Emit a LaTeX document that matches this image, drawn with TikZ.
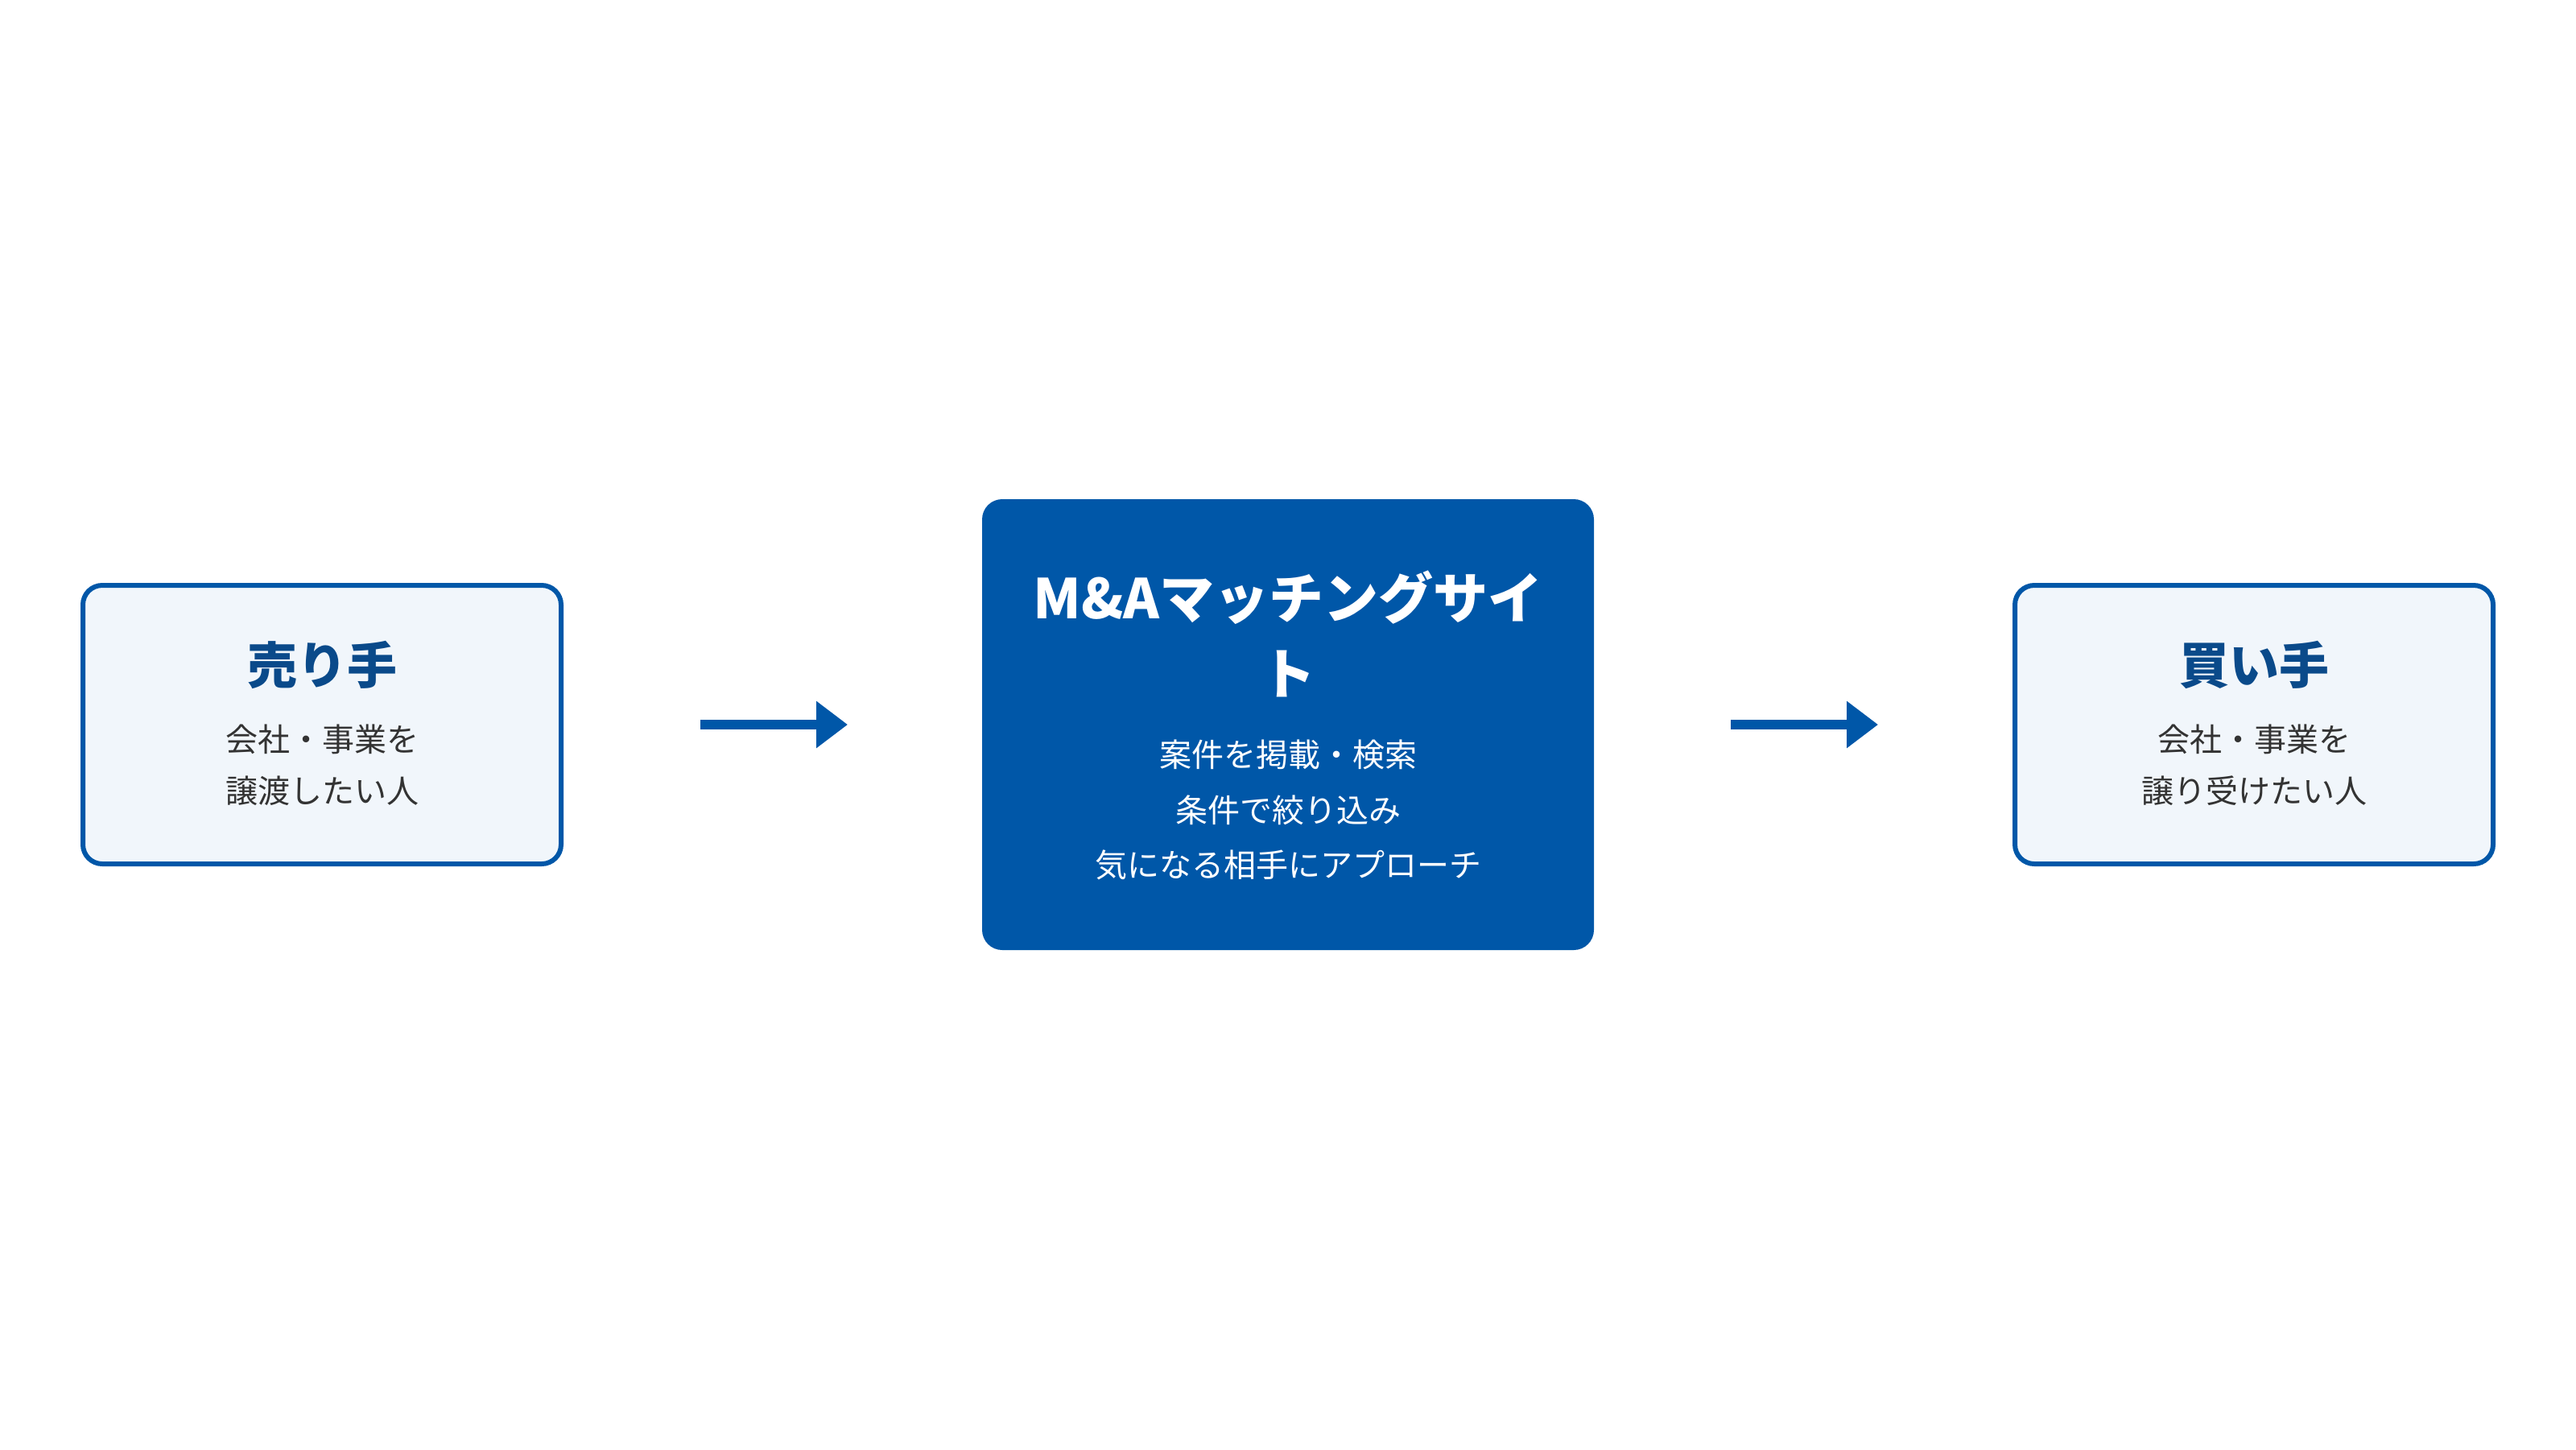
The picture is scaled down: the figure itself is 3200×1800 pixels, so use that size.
\documentclass[tikz,border=0pt]{standalone}
\usepackage{fontspec}
\usetikzlibrary{arrows.meta}
\newfontfamily\jp{Noto Sans CJK JP}
\definecolor{mainblue}{HTML}{0057A8}
\definecolor{navy}{HTML}{0A4A8A}
\definecolor{lightfill}{HTML}{F1F6FB}
\definecolor{bodygray}{HTML}{333333}
\tikzset{
  sidebox/.style={draw=mainblue, line width=1.8pt, fill=lightfill, rounded corners=7.2pt,
    minimum width=178.2pt, minimum height=103.8pt, inner sep=0pt},
  centerbox/.style={fill=mainblue, draw=none, rounded corners=7.5pt, outer sep=0pt,
    minimum width=228pt, minimum height=168pt, inner sep=0pt},
  sidetitle/.style={text=navy, inner sep=0pt, font=\jp\bfseries\fontsize{18.6pt}{22pt}\selectfont},
  sidebody/.style={text=bodygray, inner sep=0pt, align=center, font=\jp\fontsize{12pt}{19.2pt}\selectfont},
  ctitle/.style={text=white, inner sep=0pt, align=center, font=\jp\bfseries\fontsize{20.4pt}{28.2pt}\selectfont},
  cbody/.style={text=white, inner sep=0pt, align=center, font=\jp\fontsize{12pt}{20.55pt}\selectfont},
  flowarrow/.style={draw=mainblue, line width=3.6pt, -{Triangle[length=11.7pt,width=16.8pt]}}
}
\begin{document}
\begin{tikzpicture}[x=0.3pt,y=-0.3pt]
\useasboundingbox (0,0) rectangle (3200,1800);
\node[sidebox] (seller) at (400,900) {};
\node[centerbox] (site) at (1600,900) {};
\node[sidebox] (buyer) at (2800,900) {};
\node[sidetitle] (sellertitle) at (400,826) {売り手};
\node[sidebody] (sellerbody) at (400,950) {会社・事業を\\譲渡したい人};
\node[ctitle] (sitetitle) at (1600,787) {M\&Aマッチングサイ\\ト};
\node[cbody] (sitebody) at (1600,1006) {案件を掲載・検索\\条件で絞り込み\\気になる相手にアプローチ};
\node[sidetitle] (buyertitle) at (2800,826) {買い手};
\node[sidebody] (buyerbody) at (2800,950) {会社・事業を\\譲り受けたい人};
\draw[flowarrow, shorten <=51pt, shorten >=50.1pt] (seller.east) -- (site.west);
\draw[flowarrow, shorten <=51pt, shorten >=50.1pt] (site.east) -- (buyer.west);
\end{tikzpicture}
\end{document}
